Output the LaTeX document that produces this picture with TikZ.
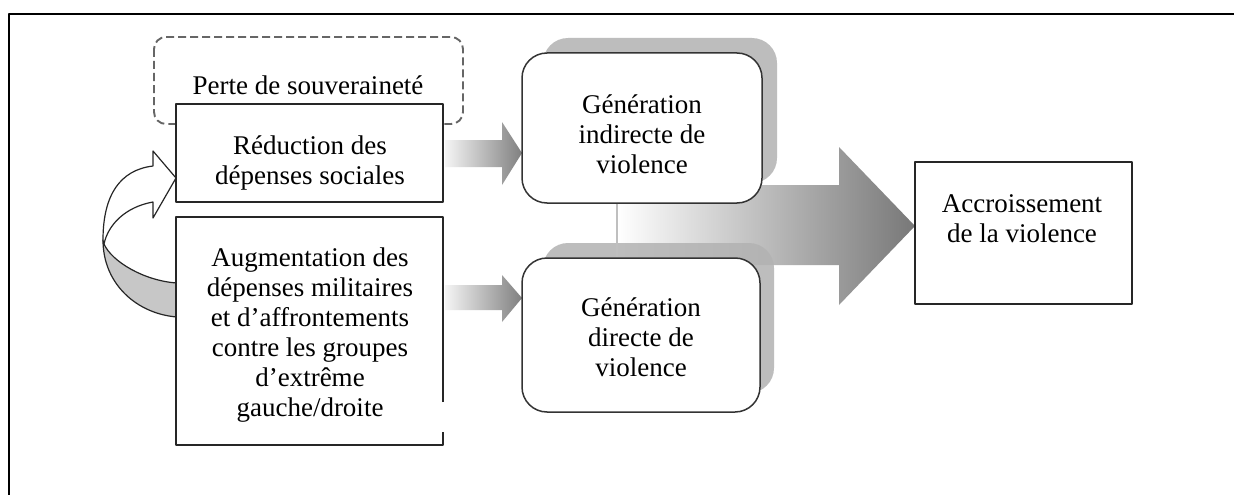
\documentclass[tikz,border=0pt]{standalone}
\usepackage{fontspec}
\setmainfont{Liberation Serif}
\begin{document}
\begin{tikzpicture}[x=1pt,y=-1pt,line join=round,
  txt/.style={font=\fontsize{27}{30}\selectfont, align=center, inner sep=0pt, text=black},
  sqbox/.style={draw=black!85, line width=1.5pt, fill=white, inner sep=0pt},
  rbox/.style={draw=black!80, line width=1.5pt, fill=white, rounded corners=25pt, inner sep=0pt},
  shadowbox/.style={fill=black!30, opacity=0.85, rounded corners=25pt},
  smallarrow/.style={left color=black!4, right color=black!50},
  bigarrow/.style={left color=white, right color=black!53},
  curveline/.style={draw=black!85, line width=1.2pt}]
\useasboundingbox (0,0) rectangle (1234,495);
\fill[white] (0,0) rectangle (1234,495);
% outer frame (top and left)
\draw[line width=2pt] (9,495) -- (9,14) -- (1234,14);

% big arrow
\shade[bigarrow] (617,185) -- (839,185) -- (839,147) -- (915,226) -- (839,305) -- (839,265) -- (617,265) -- cycle;

% dashed box
\draw[draw=black!60, line width=1.9pt, dash pattern=on 8pt off 4pt, rounded corners=12pt] (154,37) rectangle (463,124);
\node[txt, anchor=base] (perte) at (308,95) {Perte de souveraineté};

% curved arrow
\filldraw[curveline, fill=black!22] (104,244) .. controls (112,262) and (145,281) .. (177,283) -- (177,317)
  .. controls (138,314) and (103,285) .. (103,240) -- cycle;
\filldraw[curveline, fill=white] (104,244) .. controls (108,225) and (125,207) .. (153,202) -- (153,218) -- (176,178)
  -- (153,151) -- (153,166) .. controls (120,170) and (103,195) .. (103,240) -- cycle;

% left boxes
\node[sqbox, minimum width=267pt, minimum height=98pt] (red) at (309.5,153) {};
\node[txt] (redt) at (310,162.5) {Réduction des\\dépenses sociales};
\node[inner sep=0pt, fill=white, minimum width=267pt, minimum height=228pt] (aug) at (309.5,331) {};
\draw[draw=black!85, line width=1.5pt] ([yshift=43pt]aug.south east) -- (aug.north east) -- (aug.north west)
  -- (aug.south west) -- (aug.south east) -- ([yshift=13pt]aug.south east);
\node[txt] (augt) at (310,335.5) {Augmentation des\\dépenses militaires\\et d'affrontements\\contre les groupes\\d'extrême\\gauche/droite};

% small arrows
\shade[smallarrow] (445,140) -- (502,140) -- (502,122) -- (522,153) -- (502,185) -- (502,167) -- (445,167) -- cycle;
\shade[smallarrow] (445,285) -- (502,285) -- (502,275) -- (522,298) -- (502,322) -- (502,310) -- (445,310) -- cycle;

% shadows
\fill[shadowbox] (543,38) rectangle (777,183);
\fill[shadowbox] (543,243) rectangle (774,393);

% generation boxes
\node[rbox, minimum width=240pt, minimum height=150pt] (gi) at (642,128) {};
\node[txt] (git) at (642,134) {Génération\\indirecte de\\violence};
\node[rbox, minimum width=238pt, minimum height=154pt] (gd) at (641,335) {};
\node[txt] (gdt) at (641,337) {Génération\\directe de\\violence};
\draw[black!25, line width=1.5pt] ([xshift=-25pt]gi.south) -- ([xshift=-24pt]gd.north);

% result box
\node[sqbox, minimum width=217pt, minimum height=142pt] (acc) at (1023.5,233) {};
\node[txt] (acct) at (1022,219) {Accroissement\\de la violence};
\end{tikzpicture}
\end{document}
